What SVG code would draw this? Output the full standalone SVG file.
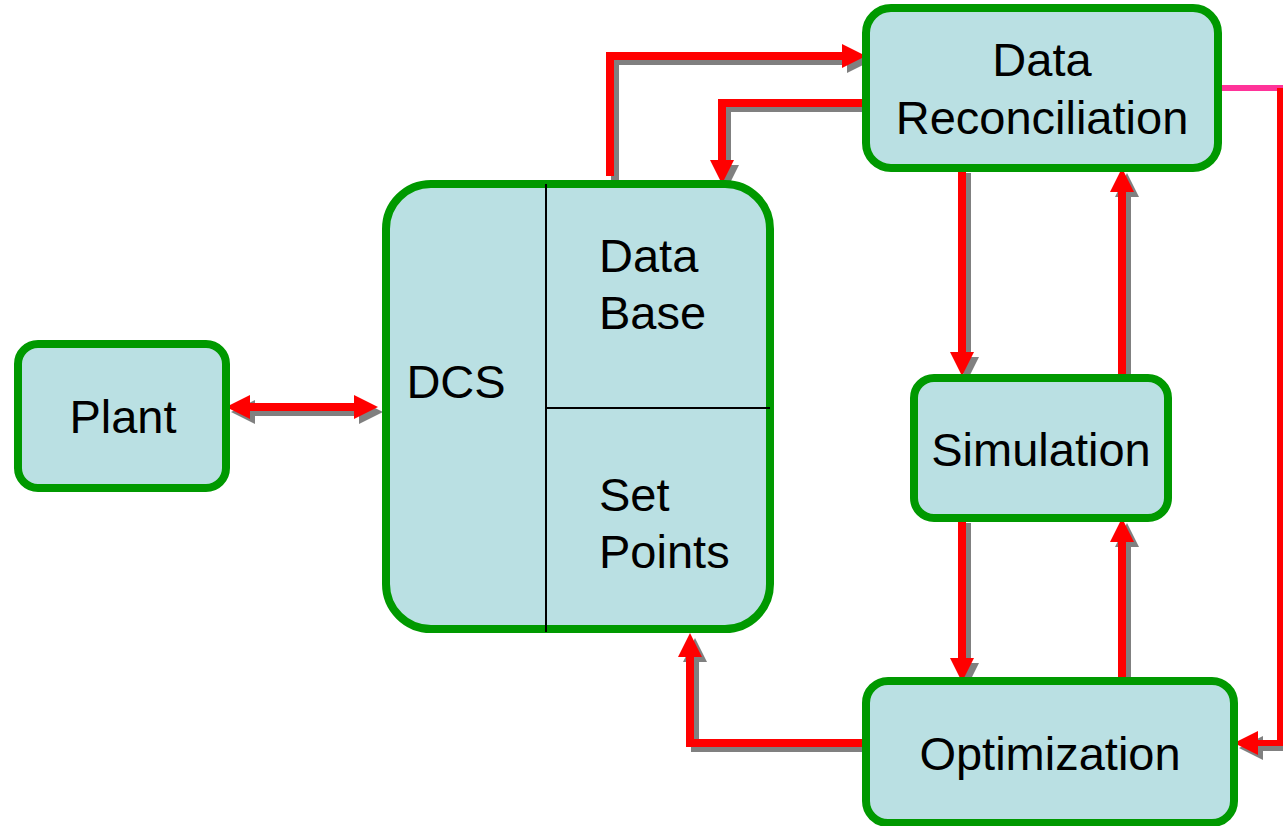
<svg xmlns="http://www.w3.org/2000/svg" width="1283" height="826" viewBox="0 0 1283 826">
  <style>
    .box { fill: #bae0e3; stroke: #009900; stroke-width: 8; }
    .divider { stroke: #000000; stroke-width: 2; fill: none; }
    .label { font-family: "Liberation Sans", Arial, sans-serif; font-size: 47px; fill: #000000; }
    .mid { text-anchor: middle; }
    .wire { fill: none; stroke-width: 8; stroke-linejoin: miter; stroke-linecap: butt; }
    .thin { stroke-width: 6; }
    .red { stroke: #ff0000; }
    .shadow { stroke: #808080; }
    .red.head { marker-end: url(#headRed); }
    .shadow.head { marker-end: url(#headGray); }
    .red.both { marker-start: url(#headRed); marker-end: url(#headRed); }
    .shadow.both { marker-start: url(#headGray); marker-end: url(#headGray); }
  </style>
  <defs>
    <marker id="headRed" markerUnits="userSpaceOnUse" viewBox="0 0 24 24" markerWidth="24" markerHeight="24" refX="0" refY="12" orient="auto-start-reverse">
      <path d="M0,0 L24,12 L0,24 Z" fill="#ff0000"/>
    </marker>
    <marker id="headGray" markerUnits="userSpaceOnUse" viewBox="0 0 24 24" markerWidth="24" markerHeight="24" refX="0" refY="12" orient="auto-start-reverse">
      <path d="M0,0 L24,12 L0,24 Z" fill="#808080"/>
    </marker>
    <!-- connector routes, drawn once as drop shadow and once in red -->
    <path id="r-plant-dcs" d="M250,407 L354,407"/>
    <path id="r-dcs-dr" d="M610,176 L610,56 L842,56"/>
    <path id="r-dr-dcs" d="M866,103 L722,103 L722,160"/>
    <path id="r-dr-sim" d="M962,168 L962,352"/>
    <path id="r-sim-dr" d="M1122,376 L1122,192"/>
    <path id="r-sim-opt" d="M962,518 L962,658"/>
    <path id="r-opt-sim" d="M1122,682 L1122,542"/>
    <path id="r-opt-dcs" d="M866,743 L690,743 L690,657"/>
    <path id="r-dr-opt" d="M1280,88 L1280,743 L1258,743"/>
  </defs>

  <!-- connectors -->
  <g id="connectors">
    <g transform="translate(5,5)">
      <use href="#r-plant-dcs" class="wire shadow both"/>
      <use href="#r-dcs-dr" class="wire shadow head"/>
      <use href="#r-dr-dcs" class="wire shadow head"/>
      <use href="#r-dr-sim" class="wire shadow head"/>
      <use href="#r-sim-dr" class="wire shadow head"/>
      <use href="#r-sim-opt" class="wire shadow head"/>
      <use href="#r-opt-sim" class="wire shadow head"/>
      <use href="#r-opt-dcs" class="wire shadow head"/>
      <use href="#r-dr-opt" class="wire thin shadow head"/>
    </g>
    <use href="#r-plant-dcs" class="wire red both"/>
    <use href="#r-dcs-dr" class="wire red head"/>
    <use href="#r-dr-dcs" class="wire red head"/>
    <use href="#r-dr-sim" class="wire red head"/>
    <use href="#r-sim-dr" class="wire red head"/>
    <use href="#r-sim-opt" class="wire red head"/>
    <use href="#r-opt-sim" class="wire red head"/>
    <use href="#r-opt-dcs" class="wire red head"/>
    <path d="M1222,88 L1283,88" class="wire thin" stroke="#ff3399"/>
    <use href="#r-dr-opt" class="wire thin red head"/>
  </g>

  <!-- nodes -->
  <g id="plant">
    <rect class="box" x="18" y="344" width="208" height="144" rx="20" ry="20"/>
    <text class="label mid" x="123" y="433">Plant</text>
  </g>

  <g id="dcs">
    <rect class="box" x="386" y="184" width="384" height="445" rx="45" ry="45"/>
    <line class="divider" x1="546" y1="184" x2="546" y2="632"/>
    <line class="divider" x1="546" y1="408" x2="770" y2="408"/>
    <text class="label mid" x="456" y="398">DCS</text>
    <text class="label" x="599" y="272">Data</text>
    <text class="label" x="599" y="329">Base</text>
    <text class="label" x="599" y="511">Set</text>
    <text class="label" x="599" y="568">Points</text>
  </g>

  <g id="data-reconciliation">
    <rect class="box" x="866" y="8" width="352" height="160" rx="25" ry="25"/>
    <text class="label mid" x="1042" y="76">Data</text>
    <text class="label mid" x="1042" y="134">Reconciliation</text>
  </g>

  <g id="simulation">
    <rect class="box" x="914" y="378" width="254" height="140" rx="20" ry="20"/>
    <text class="label mid" x="1041" y="466">Simulation</text>
  </g>

  <g id="optimization">
    <rect class="box" x="866" y="681" width="368" height="142" rx="22" ry="22"/>
    <text class="label mid" x="1050" y="770">Optimization</text>
  </g>
</svg>
